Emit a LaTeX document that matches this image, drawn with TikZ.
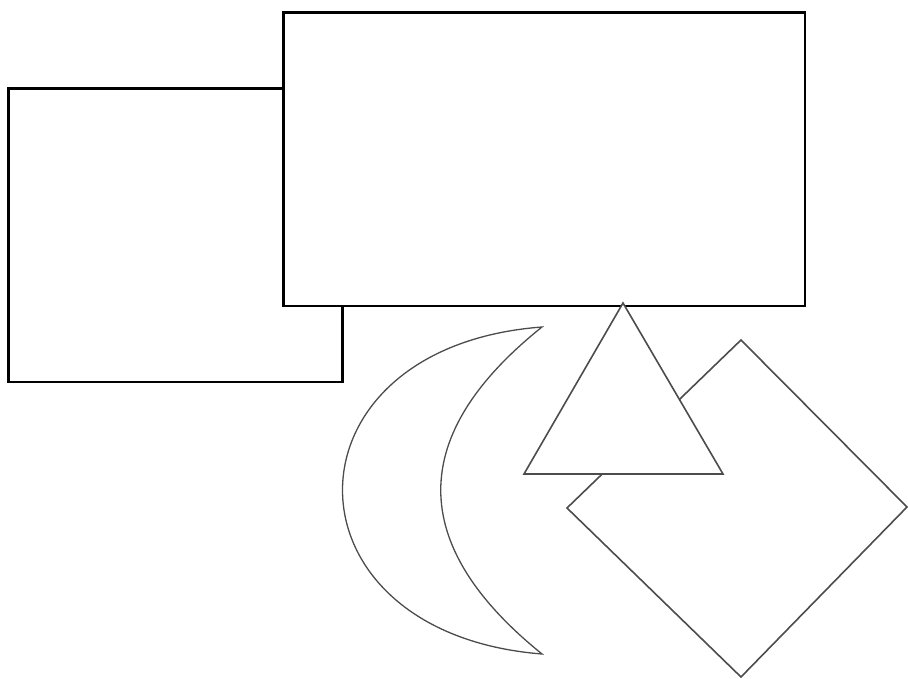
\documentclass[tikz,border=0pt]{standalone}
\begin{document}
\begin{tikzpicture}[x=1pt,y=-1pt,
  boxline/.style={draw=black,line width=2.3pt,fill=white},
  grayline/.style={draw=black!70,line width=1.6pt,fill=white,line join=miter},
  moonline/.style={draw=black!70,line width=1.3pt,fill=white}]
\useasboundingbox (0,0) rectangle (908,679);
% back rectangle
\draw[boxline] (8.5,88.5) rectangle (342.5,382);
% front rectangle
\draw[boxline] (283.5,12.5) rectangle (805,306);
% crescent
\draw[moonline] (542,327) .. controls (276,347) and (276,633) .. (542,654)
  .. controls (407,545) and (407,435) .. cycle;
% diamond
\draw[grayline] (741,340) -- (907,507) -- (741,677) -- (567,508) -- cycle;
% triangle
\draw[grayline] (623,303) -- (723,474) -- (524,474) -- cycle;
\end{tikzpicture}
\end{document}
